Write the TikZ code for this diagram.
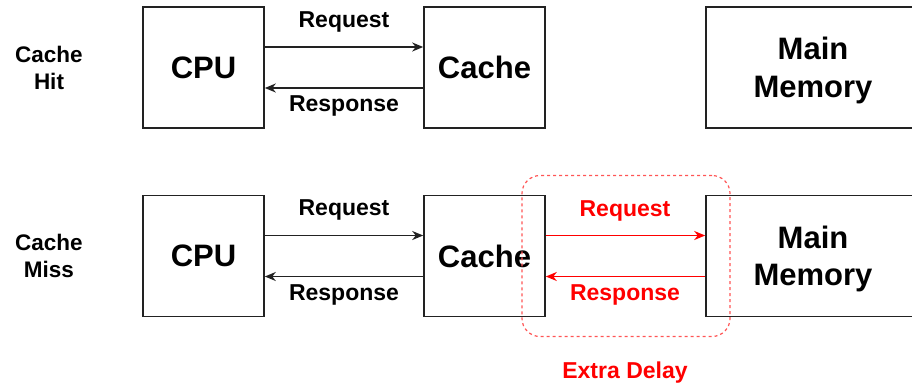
\documentclass[tikz,border=0pt]{standalone}
\usepackage{fontspec}
\setmainfont{Liberation Sans}
\usetikzlibrary{arrows.meta}
\definecolor{ink}{HTML}{222222}
\definecolor{alert}{HTML}{FF0000}
\definecolor{delayline}{HTML}{FF5555}
\begin{document}
\begin{tikzpicture}[x=1pt,y=-1pt,
  unit/.style={draw=ink, line width=1.6pt, minimum height=121pt, inner sep=0pt,
    font=\fontsize{31}{37.5}\selectfont\bfseries, align=center, text depth=0pt},
  lbl/.style={font=\fontsize{23}{27}\selectfont\bfseries, anchor=base, inner sep=0pt},
  side/.style={font=\fontsize{22.5}{27}\selectfont\bfseries, align=center, inner sep=0pt},
  link/.style={line width=1.8pt, draw=ink, -{Stealth[length=11pt,width=9pt,inset=3.5pt]}},
  redlink/.style={line width=1.8pt, draw=alert, -{Stealth[length=11pt,width=9pt,inset=3.5pt]}},
]
\useasboundingbox (0,0) rectangle (912,386);

% row labels
\node[side] (hit)  at (49,67.5) {Cache\\Hit};
\node[side] (miss) at (49,256)  {Cache\\Miss};

% cache hit row
\node[unit, minimum width=121pt] (cpu1)   at (203.5,67.5) {CPU};
\node[unit, minimum width=121pt] (cache1) at (484.5,67.5) {Cache};
\node[unit, minimum width=214pt] (mem1)   at (813,67.5)   {Main\\Memory};

\draw[link] ([yshift=20.5pt]cpu1.east) -- ([yshift=20.5pt]cache1.west);
\draw[link] ([yshift=-20.5pt]cache1.west) -- ([yshift=-20.5pt]cpu1.east);
\node[lbl] (req1) at (344,27)  {Request};
\node[lbl] (res1) at (344,111) {Response};

% cache miss row
\node[unit, minimum width=121pt] (cpu2)   at (203.5,256) {CPU};
\node[unit, minimum width=121pt] (cache2) at (484.5,256) {Cache};
\node[unit, minimum width=214pt] (mem2)   at (813,256)   {Main\\Memory};

\draw[link] ([yshift=20.5pt]cpu2.east) -- ([yshift=20.5pt]cache2.west);
\draw[link] ([yshift=-20.5pt]cache2.west) -- ([yshift=-20.5pt]cpu2.east);
\node[lbl] (req2) at (344,215) {Request};
\node[lbl] (res2) at (344,300) {Response};

% trip to main memory
\draw[redlink] ([yshift=20.5pt]cache2.east) -- ([yshift=20.5pt]mem2.west);
\draw[redlink] ([yshift=-20.5pt]mem2.west) -- ([yshift=-20.5pt]cache2.east);
\node[lbl, text=alert] (req3) at (625,216) {Request};
\node[lbl, text=alert] (res3) at (625,300) {Response};

% extra delay region
\node[draw=delayline, line width=1.2pt, dash pattern=on 3pt off 3pt,
  rounded corners=18pt, minimum width=208pt, minimum height=161pt, inner sep=0pt]
  (delay) at (626,256) {};
\node[lbl, text=alert] (delaytext) at (625,378) {Extra Delay};
\end{tikzpicture}
\end{document}
